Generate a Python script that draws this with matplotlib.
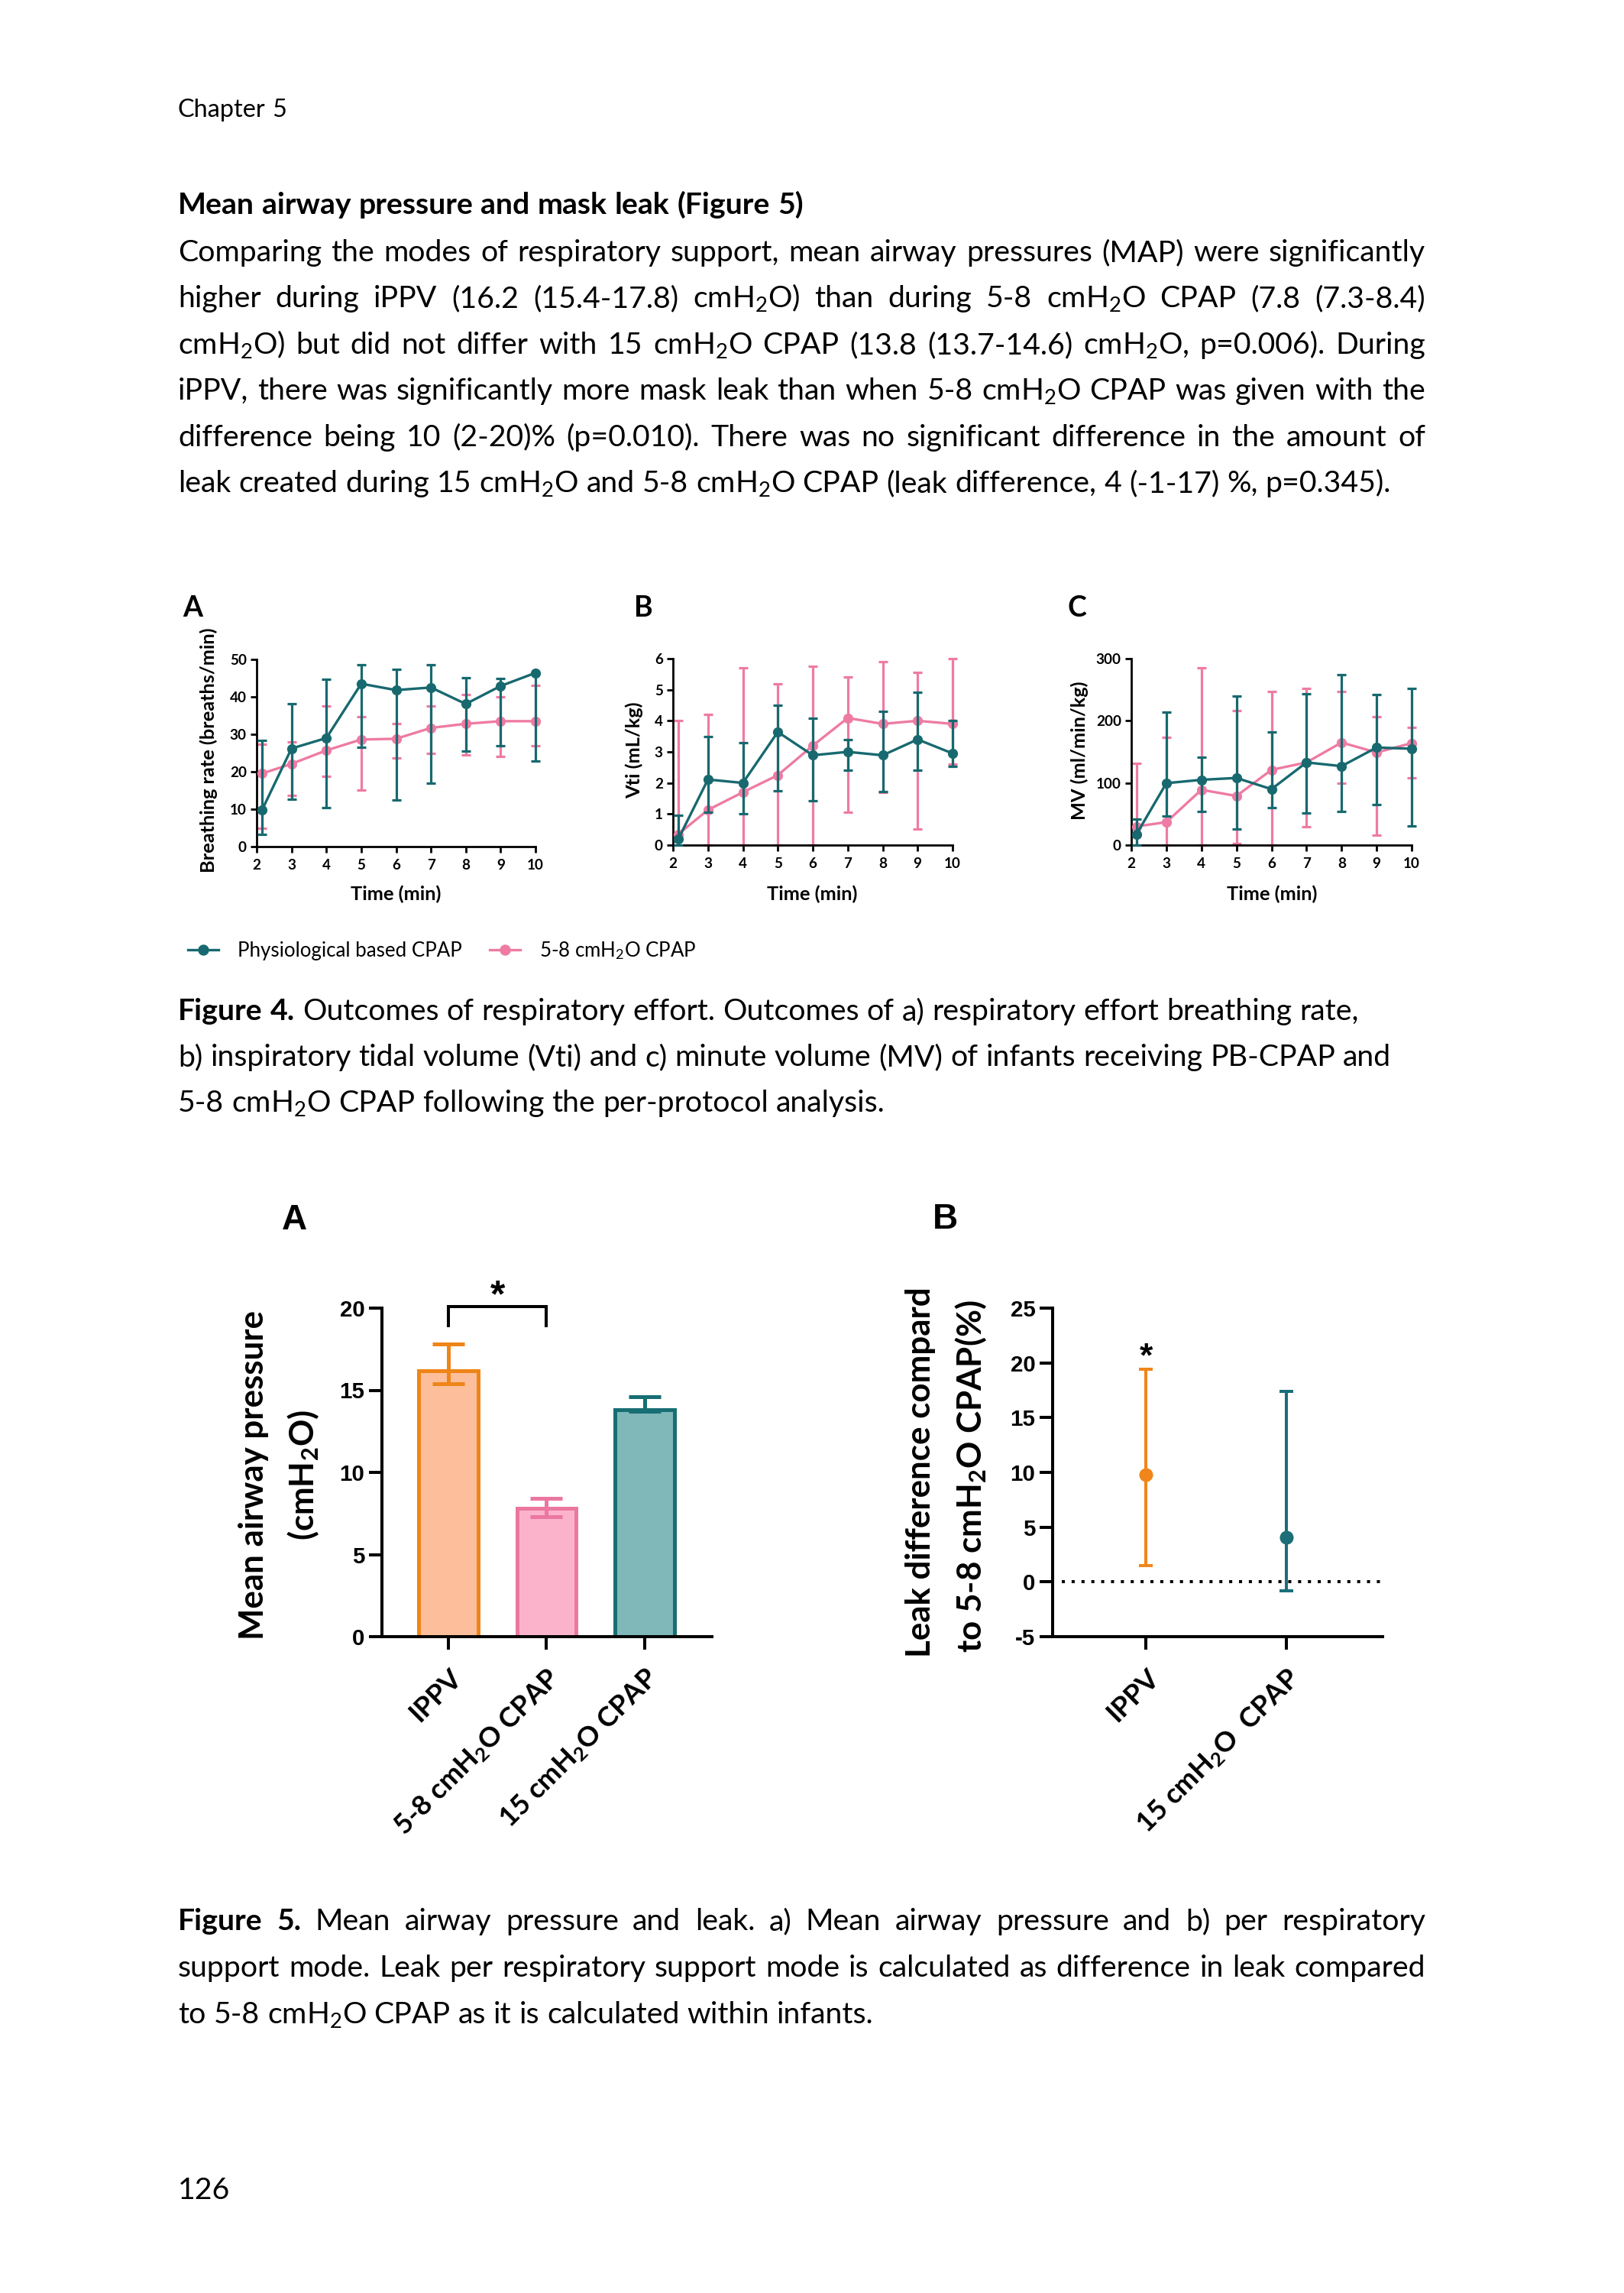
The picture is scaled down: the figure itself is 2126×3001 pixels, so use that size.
import matplotlib
matplotlib.use("Agg")
import matplotlib.pyplot as plt
import numpy as np

plt.rcParams['font.family'] = ['Lato', 'DejaVu Sans']
plt.rcParams['mathtext.fontset'] = 'custom'
plt.rcParams['mathtext.rm'] = 'Lato'
plt.rcParams['mathtext.it'] = 'Lato:italic'
plt.rcParams['mathtext.bf'] = 'Lato:bold'
plt.rcParams['axes.unicode_minus'] = False

W, H = 2126, 3001

# ---------------- Figure 4 data (median + IQR per minute) ----------------
time_min = [2.15, 3, 4, 5, 6, 7, 8, 9, 10]

rate_pb = [9.7, 26.2, 29.0, 43.5, 41.8, 42.5, 38.1, 42.9, 46.4]
rate_pb_lo = [3.2, 12.6, 10.4, 26.5, 12.4, 17.0, 25.5, 27.0, 22.8]
rate_pb_hi = [28.4, 38.1, 44.6, 48.5, 47.3, 48.6, 45.1, 44.8, 46.4]
rate_std = [19.5, 22.1, 25.7, 28.6, 28.8, 31.7, 32.8, 33.5, 33.5]
rate_std_lo = [4.8, 13.6, 18.7, 15.1, 23.7, 24.8, 24.5, 24.1, 27.0]
rate_std_hi = [27.4, 28.0, 37.6, 34.6, 32.8, 37.5, 40.6, 40.0, 43.1]

vti_pb = [0.19, 2.11, 2.0, 3.64, 2.89, 3.0, 2.89, 3.4, 2.95]
vti_pb_lo = [0.0, 1.05, 1.0, 1.74, 1.42, 2.41, 1.72, 2.41, 2.54]
vti_pb_hi = [0.97, 3.5, 3.3, 4.5, 4.09, 3.4, 4.3, 4.91, 4.01]
vti_std = [0.35, 1.13, 1.70, 2.25, 3.2, 4.09, 3.9, 4.0, 3.9]
vti_std_lo = [0.0, 0.0, 0.0, 0.0, 0.0, 1.05, 1.7, 0.52, 2.6]
vti_std_hi = [4.02, 4.21, 5.7, 5.2, 5.75, 5.4, 5.9, 5.55, 6.0]

mv_pb = [17.6, 99.6, 105, 108, 90, 133, 127, 157, 155]
mv_pb_lo = [0, 46.3, 53.7, 25.8, 59.8, 51.6, 54.5, 65.6, 30.7]
mv_pb_hi = [42.2, 214, 142, 240, 182, 244, 274, 242, 252]
mv_std = [30, 36.9, 89, 79, 121, 133, 165, 149, 164]
mv_std_lo = [0, 0, 0, 2, 0, 30, 100, 15.6, 108]
mv_std_hi = [131, 173, 285, 216, 247, 252, 247, 206, 189]

series_names = ['Physiological based CPAP', '5-8 cmH$_2$O CPAP']

# ---------------- Figure 5 data ----------------
modes_map = ['IPPV', '5-8 cmH$_\\mathbf{2}$O CPAP', '15 cmH$_\\mathbf{2}$O CPAP']
map_median = [16.2, 7.8, 13.8]
map_lo = [15.4, 7.3, 13.7]
map_hi = [17.8, 8.4, 14.6]

modes_leak = ['IPPV', '15 cmH$_\\mathbf{2}$O  CPAP']
leak_median = [9.8, 4.1]
leak_lo = [1.5, -0.8]
leak_hi = [19.4, 17.4]

# ---------------- page text ----------------
para_lines = [
    "Comparing the modes of respiratory support, mean airway pressures (MAP) were significantly",
    "higher during iPPV (16.2 (15.4-17.8) cmH$_2$O) than during 5-8 cmH$_2$O CPAP (7.8 (7.3-8.4)",
    "cmH$_2$O) but did not differ with 15 cmH$_2$O CPAP (13.8 (13.7-14.6) cmH$_2$O, p=0.006). During",
    "iPPV, there was significantly more mask leak than when 5-8 cmH$_2$O CPAP was given with the",
    "difference being 10 (2-20)% (p=0.010). There was no significant difference in the amount of",
    "leak created during 15 cmH$_2$O and 5-8 cmH$_2$O CPAP (leak difference, 4 (-1-17) %, p=0.345).",
]
cap4_lines = [
    "Figure 4. Outcomes of respiratory effort. Outcomes of a) respiratory effort breathing rate,",
    "b) inspiratory tidal volume (Vti) and c) minute volume (MV) of infants receiving PB-CPAP and",
    "5-8 cmH$_2$O CPAP following the per-protocol analysis.",
]
cap5_lines = [
    "Figure 5. Mean airway pressure and leak. a) Mean airway pressure and b) per respiratory",
    "support mode. Leak per respiratory support mode is calculated as difference in leak compared",
    "to 5-8 cmH$_2$O CPAP as it is calculated within infants.",
]

teal = '#17696F'
pink = '#EE7BA3'
bar_fill = ['#FDBF9B', '#FBB3CB', '#80B8BA']
bar_edge = ['#EF8519', '#EB77A0', '#176E73']
leak_col = ['#F0861A', '#1C6E78']

fig = plt.figure(figsize=(W / 100, H / 100), dpi=100)
r = fig.canvas.get_renderer()


def px_text(x, y, s, **kw):
    return fig.text(x / W, 1 - y / H, s, **kw)


def width_of(s, **kw):
    t = fig.text(0, 0, s, **kw)
    w = t.get_window_extent(r).width
    t.remove()
    return w


def fit(s, target, **kw):
    return 20 * target / width_of(s, fontsize=20, **kw)


def text_line(y, line, size, x0=233, x1=None, n_bold=0):
    words = line.split(' ')
    arts = [px_text(0, y, w, fontsize=size, va='baseline',
                    fontweight='bold' if i < n_bold else 'normal')
            for i, w in enumerate(words)]
    ws = [a.get_window_extent(r).width for a in arts]
    if x1 is None:
        gap = width_of('a a', fontsize=size) - width_of('aa', fontsize=size)
    else:
        gap = (x1 - x0 - sum(ws)) / (len(words) - 1)
    x = x0
    for a, w in zip(arts, ws):
        a.set_x(x / W)
        x += w + gap


def add_ax(x0, x1, ytop, ybot):
    ax = fig.add_axes([x0 / W, 1 - ybot / H, (x1 - x0) / W, (ybot - ytop) / H])
    ax.spines[['top', 'right']].set_visible(False)
    return ax


# ---------------- body text ----------------
body = fit(para_lines[-1], 1590)
for l in para_lines[:-1] + [cap4_lines[1]]:
    body = min(body, fit(l, 1625))

text_line(153, "Chapter 5", fit("Chapter 5", 142))
text_line(280, "Mean airway pressure and mask leak (Figure 5)", body, n_bold=99)
for i, l in enumerate(para_lines):
    text_line(342 + 60.4 * i, l, body, x1=1866 if i < len(para_lines) - 1 else None)
for i, l in enumerate(cap4_lines):
    text_line(1335 + 60.2 * i, l, body, n_bold=2 if i == 0 else 0)
for i, l in enumerate(cap5_lines):
    text_line(2526 + 60.8 * i, l, body, x1=1866 if i < 2 else None, n_bold=2 if i == 0 else 0)
text_line(2878, "126", body)

# ---------------- Figure 4 ----------------
tick4 = fit("10", 22, fontweight='bold')
lab4 = fit("Breathing rate (breaths/min)", 322, fontweight='bold')
let4 = fit("A", 26, fontweight='bold')


def resp_panel(box, pb, pb_lo, pb_hi, st, st_lo, st_hi, yticks, ylabel, ylab_x, letter, letter_x, xlab_x):
    ax = add_ax(*box)
    handles = []
    for y, lo, hi, c, z in [(st, st_lo, st_hi, pink, 2), (pb, pb_lo, pb_hi, teal, 4)]:
        y = np.array(y, dtype=float)
        err = [y - np.array(lo), np.array(hi) - y]
        eb = ax.errorbar(time_min, y, yerr=err, fmt='none', ecolor=c, elinewidth=2.3,
                         capsize=4.3, capthick=2.3, zorder=z)
        for a in eb.get_children():
            a.set_clip_on(False)
        line, = ax.plot(time_min, y, '-o', color=c, lw=2.4, ms=8.5, zorder=z + 1, clip_on=False)
        handles.append(line)
    ax.set_xlim(2, 10)
    ax.set_ylim(0, yticks[-1])
    ax.set_xticks(range(2, 11))
    ax.set_yticks(yticks)
    for s in ['left', 'bottom']:
        ax.spines[s].set_linewidth(2)
    ax.tick_params(width=2, length=5.5, labelsize=tick4, pad=4)
    ax.tick_params(axis='x', pad=6)
    for t in ax.get_xticklabels() + ax.get_yticklabels():
        t.set_fontweight('bold')
    px_text(ylab_x, 982, ylabel, rotation=90, ha='center', va='center', fontsize=lab4, fontweight='bold')
    px_text(xlab_x, 1170, 'Time (min)', ha='center', va='center', fontsize=lab4, fontweight='bold')
    px_text(letter_x, 796, letter, ha='center', va='center', fontsize=let4, fontweight='bold')
    return handles[::-1]


h4 = resp_panel((336, 701, 863, 1108), rate_pb, rate_pb_lo, rate_pb_hi, rate_std, rate_std_lo, rate_std_hi,
                [0, 10, 20, 30, 40, 50], 'Breathing rate (breaths/min)', 273, 'A', 252, 518)
resp_panel((881, 1247, 862, 1106), vti_pb, vti_pb_lo, vti_pb_hi, vti_std, vti_std_lo, vti_std_hi,
           [0, 1, 2, 3, 4, 5, 6], 'Vti (mL/kg)', 830, 'B', 842, 1063)
resp_panel((1481, 1848, 862, 1106), mv_pb, mv_pb_lo, mv_pb_hi, mv_std, mv_std_lo, mv_std_hi,
           [0, 100, 200, 300], 'MV (ml/min/kg)', 1413, 'C', 1410, 1665)

leg4 = fit(series_names[0], 293)
fs_px = leg4 * 100 / 72
fig.legend(h4, series_names, loc='center left', bbox_to_anchor=(246 / W, 1 - 1244 / H),
           frameon=False, ncol=2, fontsize=leg4, handlelength=40 / fs_px,
           handletextpad=25 / fs_px, columnspacing=36 / fs_px, borderpad=0, borderaxespad=0,
           markerscale=1.1)

# ---------------- Figure 5 ----------------
tick5 = fit("20", 33, fontweight='bold', family='Liberation Sans')
ylab5 = fit("Mean airway pressure", 431, fontweight='bold')
xlab5 = fit("5-8 cmH$_\\mathbf{2}$O CPAP", 291, fontweight='bold')
let5 = fit("A", 33, fontweight='bold', family='Liberation Sans')


def style5(ax, labels):
    for s in ['left', 'bottom']:
        ax.spines[s].set_linewidth(2.9)
    ax.tick_params(width=2.9, length=12.2, labelsize=tick5, pad=4, labelfontfamily='Liberation Sans')
    for t in ax.get_yticklabels():
        t.set_fontweight('bold')
    ax.set_xticks(range(len(labels)), labels)
    ax.tick_params(axis='x', pad=14)
    for t in ax.get_xticklabels():
        t.set_fontfamily(['Lato', 'DejaVu Sans'])
        t.set_fontsize(xlab5)
        t.set_fontweight('bold')
        t.set_rotation(45)
        t.set_ha('right')
        t.set_va('top')
        t.set_rotation_mode('anchor')


# A: mean airway pressure bars
ax = add_ax(500, 932, 1712, 2142)
xpos = np.arange(len(modes_map))
ax.bar(xpos, map_median, width=0.6, color=bar_fill, edgecolor=bar_edge, linewidth=3.6, zorder=2)
for i in xpos:
    ax.errorbar(i, map_median[i], yerr=[[map_median[i] - map_lo[i]], [map_hi[i] - map_median[i]]],
                fmt='none', ecolor=bar_edge[i], elinewidth=3.6, capsize=15, capthick=3.6, zorder=3)
ax.plot([0, 0, 1, 1], [18.93, 20.09, 20.09, 18.93], color='black', lw=2.9, clip_on=False,
        solid_joinstyle='miter')
ax.text(0.5, 20.1, '*', ha='center', va='baseline', fontsize=36, fontweight='bold',
        family='Liberation Sans', clip_on=False)
ax.set_xlim(-0.677, 2.685)
ax.set_ylim(0, 20)
ax.set_yticks([0, 5, 10, 15, 20])
style5(ax, modes_map)
px_text(332, 1930, 'Mean airway pressure', rotation=90, ha='center', va='center',
        fontsize=ylab5, fontweight='bold')
px_text(397, 1930, '(cmH$_\\mathbf{2}$O)', rotation=90, ha='center', va='center',
        fontsize=ylab5, fontweight='bold')
px_text(385, 1597, 'A', ha='center', va='center', fontsize=let5, fontweight='bold', family='Liberation Sans')

# B: leak difference
ax = add_ax(1378, 1810, 1712, 2142)
ax.axhline(0, xmin=0.028, xmax=1, color='black', lw=2.9, ls=(0, (1, 2.2)), zorder=1)
for i in range(len(modes_leak)):
    eb = ax.errorbar(i, leak_median[i], yerr=[[leak_median[i] - leak_lo[i]], [leak_hi[i] - leak_median[i]]],
                     fmt='o', color=leak_col[i], ms=12, elinewidth=2.9, capsize=6.5, capthick=2.9, zorder=3)
ax.text(0, 19.7, '*', ha='center', va='baseline', fontsize=32, fontweight='bold',
        family='Liberation Sans', clip_on=False)
ax.set_xlim(-0.663, 1.685)
ax.set_ylim(-5, 25)
ax.set_yticks([-5, 0, 5, 10, 15, 20, 25])
style5(ax, modes_leak)
px_text(1205, 1927, 'Leak difference compard', rotation=90, ha='center', va='center',
        fontsize=ylab5, fontweight='bold')
px_text(1271, 1932, 'to 5-8 cmH$_\\mathbf{2}$O CPAP(%)', rotation=90, ha='center', va='center',
        fontsize=ylab5, fontweight='bold')
px_text(1237, 1596, 'B', ha='center', va='center', fontsize=let5, fontweight='bold', family='Liberation Sans')

fig.savefig('out.png', dpi=100)
